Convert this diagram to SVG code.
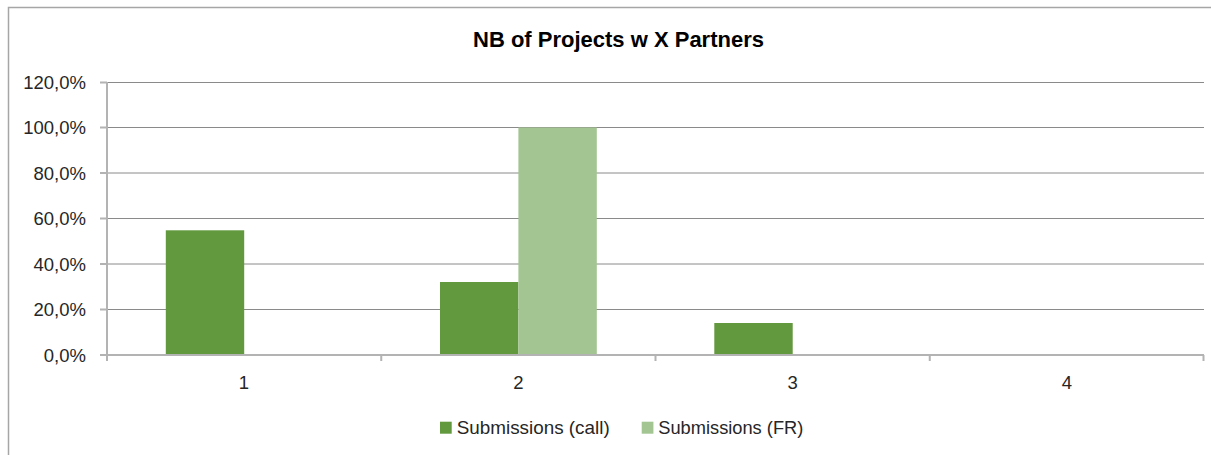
<svg xmlns="http://www.w3.org/2000/svg" width="1211" height="455" viewBox="0 0 1211 455">
<style>
.lbl{font-family:"Liberation Sans",Arial,sans-serif;font-size:18.5px;fill:#262626}
.title{font-family:"Liberation Sans",Arial,sans-serif;font-size:22px;font-weight:bold;fill:#000}
.grid{stroke:#8a8a8a;stroke-width:1}
.axis{stroke:#b3b3b3;stroke-width:2;fill:none}
.call{fill:#62993e}
.fr{fill:#a3c592}
</style>
<rect x="0" y="0" width="1211" height="455" fill="#ffffff"/>
<g id="frame">
<path d="M8.5 455 V7.5 H1211" fill="none" stroke="#a6a6a6" stroke-width="1.5"/>
</g>
<g id="title">
<text class="title" x="618.5" y="47" text-anchor="middle">NB of Projects w X Partners</text>
</g>
<g id="gridlines">
<line class="grid" x1="107" y1="82.5" x2="1204" y2="82.5"/>
<line class="grid" x1="107" y1="127.5" x2="1204" y2="127.5"/>
<line class="grid" x1="107" y1="173" x2="1204" y2="173"/>
<line class="grid" x1="107" y1="218.5" x2="1204" y2="218.5"/>
<line class="grid" x1="107" y1="264" x2="1204" y2="264"/>
<line class="grid" x1="107" y1="309.5" x2="1204" y2="309.5"/>
</g>
<g id="y-axis">
<path class="axis" d="M107 82 V355"/>
<path class="axis" d="M100 82.5 H107 M100 127.5 H107 M100 173 H107 M100 218.5 H107 M100 264 H107 M100 309.5 H107 M100 355 H107"/>
<text class="lbl" x="86" y="89" text-anchor="end">120,0%</text>
<text class="lbl" x="86" y="134" text-anchor="end">100,0%</text>
<text class="lbl" x="86" y="179.5" text-anchor="end">80,0%</text>
<text class="lbl" x="86" y="225" text-anchor="end">60,0%</text>
<text class="lbl" x="86" y="270.5" text-anchor="end">40,0%</text>
<text class="lbl" x="86" y="316" text-anchor="end">20,0%</text>
<text class="lbl" x="86" y="361.5" text-anchor="end">0,0%</text>
</g>
<g id="bars">
<rect id="bar-1-call" class="call" x="165.8" y="230.3" width="78.4" height="124.7"/>
<rect id="bar-2-call" class="call" x="440" y="282" width="78.4" height="73"/>
<rect id="bar-2-fr" class="fr" x="518.4" y="127.5" width="78.4" height="227.5"/>
<rect id="bar-3-call" class="call" x="714.3" y="323" width="78.4" height="32"/>
</g>
<g id="x-axis">
<path class="axis" d="M107 355 H1204"/>
<path class="axis" d="M107 355 V361 M381.25 355 V361 M655.5 355 V361 M929.75 355 V361 M1203.5 355 V361"/>
<text class="lbl" x="244" y="388.5" text-anchor="middle">1</text>
<text class="lbl" x="518.4" y="388.5" text-anchor="middle">2</text>
<text class="lbl" x="792.6" y="388.5" text-anchor="middle">3</text>
<text class="lbl" x="1066.9" y="388.5" text-anchor="middle">4</text>
</g>
<g id="legend">
<rect class="call" x="440" y="421.7" width="11.7" height="12"/>
<text class="lbl" x="456.7" y="434" textLength="153" lengthAdjust="spacingAndGlyphs">Submissions (call)</text>
<rect class="fr" x="641.7" y="421.7" width="11.7" height="12"/>
<text class="lbl" x="658.3" y="434" textLength="145" lengthAdjust="spacingAndGlyphs">Submissions (FR)</text>
</g>
</svg>
